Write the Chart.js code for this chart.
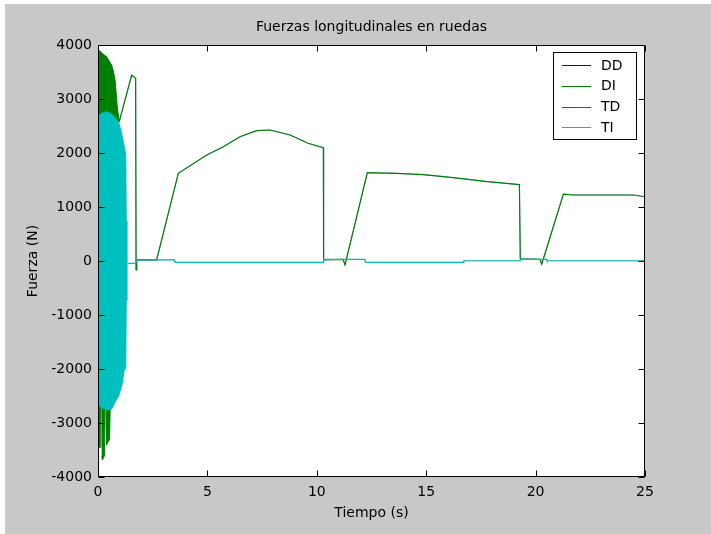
<!DOCTYPE html>
<html>
<head>
<meta charset="utf-8">
<script src="https://cdn.jsdelivr.net/npm/chart.js@4.4.0/dist/chart.umd.min.js"></script>
<style>
  html, body { margin: 0; padding: 0; background: #ffffff; }
  #wrap { position: relative; width: 711px; height: 534px; }
  canvas { display: block; }
</style>
</head>
<body>
<div id="wrap"><canvas id="c" width="711" height="534"></canvas></div>
<script>
// ---- Data ----
const chartTitle = 'Fuerzas longitudinales en ruedas';
const xAxisTitle = 'Tiempo (s)';
const yAxisTitle = 'Fuerza (N)';
const seriesNames = ['DD', 'DI', 'TD', 'TI'];
const seriesColors = ['#0000ff', '#008000', '#ff0000', '#00bfbf'];
const xTicks = [0, 5, 10, 15, 20, 25];
const yTicks = [-4000, -3000, -2000, -1000, 0, 1000, 2000, 3000, 4000];

// TI: dense oscillation envelope (0 - 1.36 s)
const tiBandT     = [0, 0.2, 0.4, 0.62, 0.85, 0.93, 1.0, 1.08, 1.2, 1.27, 1.29, 1.36];
const tiBandUpper = [2685, 2740, 2765, 2722, 2624, 2580, 2487, 2364, 2117, 1963, 728, 728];
const tiBandLower = [-2667, -2720, -2759, -2745, -2560, -2512, -2420, -2327, -2018, -1987, -722, -722];
// TI: after oscillation
const tiLineT = [1.36, 1.73, 1.74, 3.5, 3.52, 10.3, 10.31, 12.2, 12.22, 16.7, 16.72, 19.3, 19.31, 20.5, 20.52, 25];
const tiLineV = [-43, -43, 20, 20, -25, -25, 30, 30, -25, -25, 5, 5, 30, 30, 5, 5];

// DI: dense oscillation envelope (0 - 0.97 s)
const diBandT     = [0, 0.01, 0.02, 0.11, 0.13, 0.18, 0.19, 0.2, 0.3, 0.32, 0.37, 0.38, 0.4, 0.53, 0.56, 0.62, 0.7, 0.78, 0.88, 0.97];
const diBandUpper = [3920, 3915, 3912, 3878, 3870, 3850, 3846, 3843, 3810, 3805, 3792, 3789, 3783, 3690, 3670, 3630, 3520, 3352, 2857, 2580];
const diBandLower = [-3810, -3500, -3450, -3450, -2650, -2650, -3600, -3685, -3600, -2650, -2650, -3300, -3400, -3300, -2650, -2600, -2500, -2400, -2300, -2100];
// DI: after oscillation
const diLineT = [0.97, 1.54, 1.72, 1.74, 1.77, 2.68, 3.67, 4.97, 5.73, 6.49, 7.25, 7.86, 8.78, 9.6, 10.3, 10.31, 11.2, 11.29, 12.31, 13.65, 14.87, 16.24, 17.69, 19.26, 19.3, 20.2, 20.28, 21.27, 21.72, 24.47, 25];
const diLineV = [2580, 3444, 3383, -167, 20, 20, 1623, 1963, 2117, 2302, 2413, 2426, 2333, 2180, 2099, 20, 30, -74, 1636, 1623, 1599, 1543, 1475, 1414, 40, 30, -60, 1240, 1222, 1222, 1190];

// DD and TD lie under DI and TI respectively (hidden in the reference)
const ddLineT = diLineT, ddLineV = diLineV;
const tdLineT = tiLineT, tdLineV = tiLineV;

// ---- helpers ----
const pts = (ts, vs) => ts.map((t, i) => ({ x: t, y: vs[i] }));
const FONT = "'DejaVu Sans', sans-serif";

function lineDs(label, ts, vs, color, order, extra) {
  return Object.assign({
    label: label,
    data: pts(ts, vs),
    borderColor: color,
    backgroundColor: color,
    borderWidth: 1,
    pointRadius: 0,
    tension: 0,
    fill: false,
    order: order
  }, extra || {});
}

const datasets = [
  lineDs('TI', tiBandT, tiBandUpper, seriesColors[3], 1, { fill: '+1' }),
  lineDs('TI', tiBandT, tiBandLower, seriesColors[3], 1),
  lineDs('TI', tiLineT, tiLineV, seriesColors[3], 1, { borderWidth: 1.2 }),
  lineDs('TD', tdLineT, tdLineV, seriesColors[2], 2, { borderWidth: 0.4 }),
  lineDs('DI', diBandT, diBandUpper, seriesColors[1], 3, { fill: '+1' }),
  lineDs('DI', diBandT, diBandLower, seriesColors[1], 3),
  lineDs('DI', diLineT, diLineV, seriesColors[1], 3, { borderWidth: 1.2 }),
  lineDs('DD', ddLineT, ddLineV, seriesColors[0], 4, { borderWidth: 0.4 })
];

const matlabFrame = {
  id: 'matlabFrame',
  beforeDraw(chart) {
    const ctx = chart.ctx;
    ctx.save();
    ctx.fillStyle = '#ffffff';
    ctx.fillRect(0, 0, chart.width, chart.height);
    ctx.fillStyle = '#c8c8c8';
    ctx.fillRect(5, 4, chart.width - 5, chart.height - 4);
    const a = chart.chartArea;
    ctx.fillStyle = '#ffffff';
    ctx.fillRect(a.left, a.top, a.right - a.left, a.bottom - a.top);
    ctx.restore();
  },
  afterDraw(chart) {
    const ctx = chart.ctx;
    const a = chart.chartArea;
    const xs = chart.scales.x, ys = chart.scales.y;
    ctx.save();
    ctx.strokeStyle = '#000000';
    ctx.lineWidth = 1;
    const L = Math.round(a.left) + 0.5, R = Math.round(a.right) - 0.5;
    const T = Math.round(a.top) + 0.5, B = Math.round(a.bottom) - 0.5;
    ctx.strokeRect(L, T, R - L, B - T);
    const tl = 6;
    ctx.beginPath();
    xTicks.forEach(v => {
      const px = Math.round(xs.getPixelForValue(v)) + 0.5;
      ctx.moveTo(px, B); ctx.lineTo(px, B - tl);
      ctx.moveTo(px, T); ctx.lineTo(px, T + tl);
    });
    yTicks.forEach(v => {
      const py = Math.round(ys.getPixelForValue(v)) + 0.5;
      ctx.moveTo(L, py); ctx.lineTo(L + tl, py);
      ctx.moveTo(R, py); ctx.lineTo(R - tl, py);
    });
    ctx.stroke();

    // title and axis titles
    ctx.fillStyle = '#000000';
    ctx.font = '14px ' + FONT;
    ctx.textAlign = 'center';
    ctx.textBaseline = 'middle';
    ctx.fillText(chartTitle, (a.left + a.right) / 2, 27);
    ctx.fillText(xAxisTitle, (a.left + a.right) / 2, 513);
    ctx.save();
    ctx.translate(33, (a.top + a.bottom) / 2);
    ctx.rotate(-Math.PI / 2);
    ctx.fillText(yAxisTitle, 0, 0);
    ctx.restore();

    // legend box
    const bx = 553.5, by = 52.5, bw = 83, bh = 87;
    ctx.fillStyle = '#ffffff';
    ctx.fillRect(bx, by, bw, bh);
    ctx.strokeStyle = '#000000';
    ctx.strokeRect(bx, by, bw, bh);
    const rowY = [65, 85.5, 106.5, 127];
    seriesNames.forEach((name, i) => {
      const y = Math.round(rowY[i]) + 0.5;
      ctx.strokeStyle = seriesColors[i];
      ctx.beginPath();
      ctx.moveTo(562, y); ctx.lineTo(591, y);
      ctx.stroke();
      ctx.fillStyle = '#000000';
      ctx.textAlign = 'left';
      ctx.textBaseline = 'middle';
      ctx.fillText(name, 601, rowY[i] + 1);
    });
    ctx.restore();
  }
};

new Chart(document.getElementById('c'), {
  type: 'line',
  data: { datasets: datasets },
  options: {
    responsive: false,
    animation: false,
    devicePixelRatio: 1,
    layout: { padding: { left: 0, right: 66, top: 45, bottom: 0 } },
    plugins: {
      legend: { display: false },
      title: { display: false },
      tooltip: { enabled: false },
      filler: { propagate: false }
    },
    elements: { line: { borderJoinStyle: 'miter' } },
    scales: {
      x: {
        type: 'linear',
        min: 0, max: 25,
        grid: { display: false, drawTicks: false },
        border: { display: false },
        afterBuildTicks: s => { s.ticks = xTicks.map(v => ({ value: v })); },
        afterFit: s => { s.height = 57; },
        ticks: {
          color: '#000000',
          font: { family: FONT, size: 14 },
          padding: 7,
          maxRotation: 0,
          callback: v => String(v)
        }
      },
      y: {
        type: 'linear',
        min: -4000, max: 4000,
        grid: { display: false, drawTicks: false },
        border: { display: false },
        afterBuildTicks: s => { s.ticks = yTicks.map(v => ({ value: v })); },
        afterFit: s => { s.width = 98; },
        ticks: {
          color: '#000000',
          font: { family: FONT, size: 14 },
          padding: 6,
          callback: v => String(v)
        }
      }
    }
  },
  plugins: [matlabFrame]
});
</script>
</body>
</html>
